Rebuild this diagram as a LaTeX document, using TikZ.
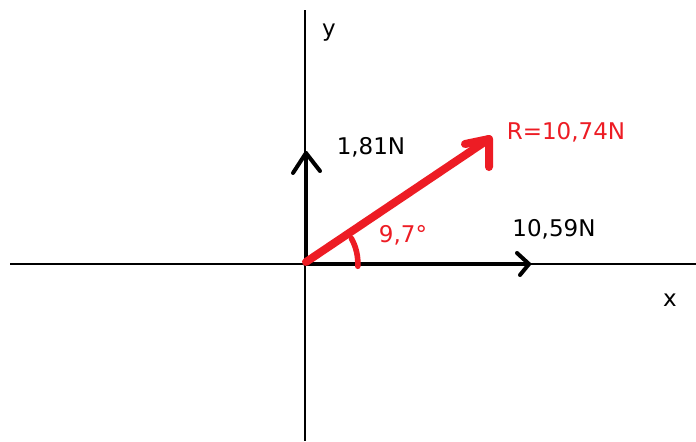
\documentclass[tikz,border=0pt]{standalone}
\usepackage{fontspec}
\setmainfont{DejaVu Sans}
\usetikzlibrary{arrows.meta}
\definecolor{pred}{RGB}{237,28,36}
\tikzset{
  axis/.style={line width=0.8pt,black},
  comp/.style={line width=2pt,black,line cap=round,line join=round},
  res/.style={line width=4pt,pred,line cap=round,line join=round},
  lbl/.style={inner sep=0pt,font=\fontsize{11.5}{13}\selectfont},
}
\begin{document}
\begin{tikzpicture}[x=0.5pt,y=-0.5pt]
\useasboundingbox[fill=white] (0,0) rectangle (696,441);
% axes
\coordinate (xl) at (10,264);
\coordinate (xr) at (696,264);
\coordinate (yt) at (305,10);
\coordinate (yb) at (305,441);
\coordinate (o) at (305,264);
\draw[axis] (xl) -- (xr);
\draw[axis] (yt) -- (yb);
% vertical component
\coordinate (vo) at (306,264);
\coordinate (vt) at (306,153);
\coordinate (vl) at (293,173);
\coordinate (vr) at (320,171);
\draw[comp] (vo) -- (vt);
\draw[comp] (vl) -- (vt) -- (vr);
% horizontal component
\coordinate (ht) at (529,264);
\coordinate (hu) at (517,253);
\coordinate (hd) at (520,275);
\draw[comp] (o) -- (ht);
\draw[comp] (hu) -- (ht) -- (hd);
% resultant
\coordinate (rs) at (306,262);
\coordinate (rt) at (489,139);
\coordinate (rl) at (465,144);
\coordinate (rd) at (489,167);
\draw[res] (rs) -- (rt);
\draw[res] (rl) -- (rt) -- (rd);
% angle arc
\draw[pred,line width=2.8pt,line cap=round] (o) ++(-29:53) arc[start angle=-29,end angle=3,radius=52];
% labels
\node[lbl] (ly) at (329,33) {y};
\node[lbl] (lx) at (670,300) {x};
\node[lbl] (l181) at (371,147) {1,81N};
\node[lbl,text=pred] (lr) at (566,132) {R=10,74N};
\node[lbl] (l1059) at (554,229) {10,59N};
\node[lbl,text=pred] (lang) at (403,235) {9,7°};
\end{tikzpicture}
\end{document}
